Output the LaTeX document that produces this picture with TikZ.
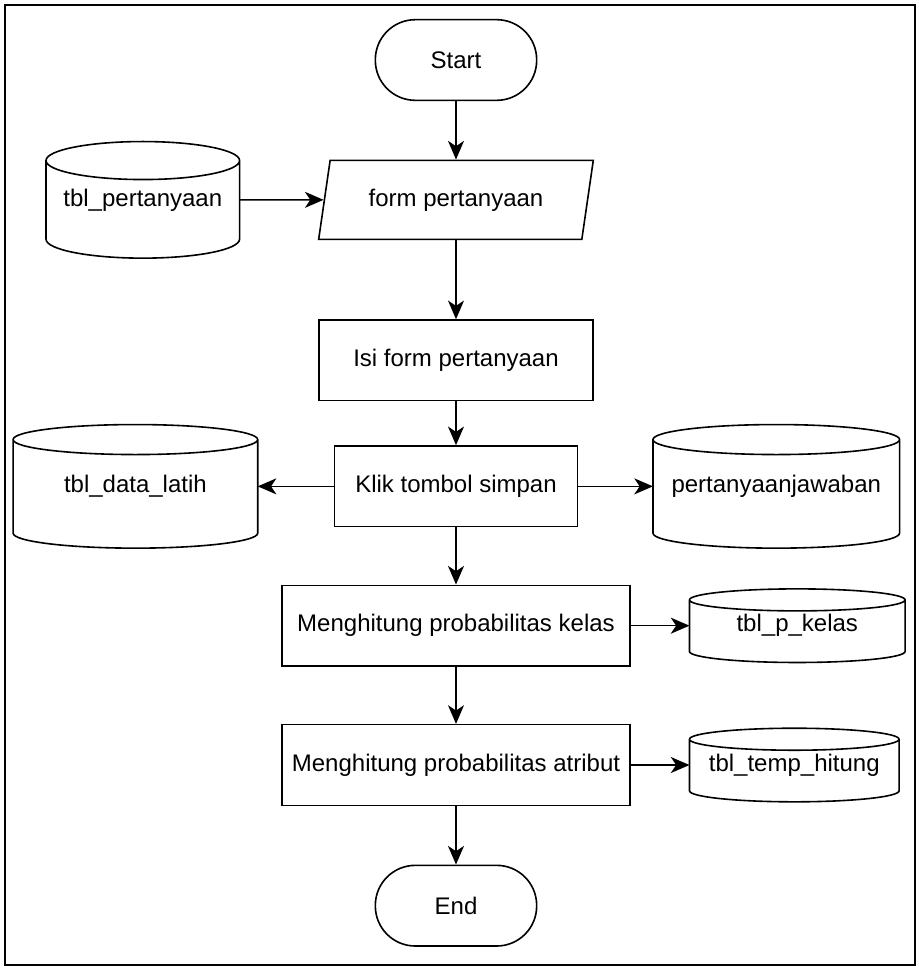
\documentclass[tikz,border=0pt]{standalone}
\usepackage{fontspec}
\setmainfont{Liberation Sans}
\usetikzlibrary{arrows.meta,positioning,shapes.geometric,calc}
\tikzset{
    %Define standard arrow tip
    >={Stealth[length=14pt,width=12pt,inset=4pt]},
    every node/.append style={font=\fontsize{18}{21}\selectfont},
    proses/.style={
      rectangle,
      draw=black,
      minimum width=205.5pt,
      minimum height=60.5pt,
      text centered},
    masukan/.style={
      trapezium,
      trapezium left angle=75,
      trapezium right angle=105,
      trapezium stretches=true,
      draw=black,
      minimum width=206pt,
      minimum height=59.25pt,
      text centered},
    terminal/.style={
      rectangle,
      rounded corners=30pt,
      draw=black,
      minimum width=121pt,
      minimum height=60.5pt,
      text centered},
    basisdata/.style={
      rectangle,
      inner sep=0pt,
      text centered},
}

\begin{document}
\begin{tikzpicture}[x=0.75pt,y=0.75pt,line width=1.2pt,node distance=42.8pt]
    \useasboundingbox (0,0) rectangle (919,-968);
    % outer frame
    \draw [line width=1.6pt] (5,-5) rectangle (915,-965);
    \node (start) [terminal] at (456,-60)
          {Start};
    \node (form) [masukan] [below=43.8pt of start]
          {form pertanyaan}
          edge [<-] (start);
    \node (tblq) [basisdata, minimum width=144pt, minimum height=86.25pt]
          [left=63pt of form]
          {tbl\_pertanyaan}
          edge [->] (form);
    \node (isi) [proses] [below=59.3pt of form]
          {Isi form pertanyaan}
          edge [<-] (form);
    \node (simpan) [proses, minimum width=182.25pt] [below=32.8pt of isi]
          {Klik tombol simpan}
          edge [<-] (isi);
    \node (latih) [basisdata, minimum width=182.25pt, minimum height=91.5pt]
          [left=57pt of simpan]
          {tbl\_data\_latih}
          edge [<-] (simpan);
    \node (tanya) [basisdata, minimum width=183.75pt, minimum height=91.5pt]
          [right=56pt of simpan]
          {pertanyaanjawaban}
          edge [<-] (simpan);
    \node (kelas) [proses, minimum width=261pt] [below=of simpan]
          {Menghitung probabilitas kelas}
          edge [<-] (simpan);
    \node (pkelas) [basisdata, minimum width=160.5pt, minimum height=54pt]
          [right=44pt of kelas]
          {tbl\_p\_kelas}
          edge [<-] (kelas);
    \node (atribut) [proses, minimum width=261pt] [below=of kelas]
          {Menghitung probabilitas atribut}
          edge [<-] (kelas);
    \node (hitung) [basisdata, minimum width=156pt, minimum height=54pt]
          [right=44pt of atribut]
          {tbl\_temp\_hitung}
          edge [<-] (atribut);
    \node (stop) [terminal] [below=43.8pt of atribut]
          {End}
          edge [<-] (atribut);
    % cylinder outlines round the table nodes
    \foreach \db/\ry in {tblq/14.25pt, latih/11.25pt, tanya/11.25pt, pkelas/8.25pt, hitung/8.25pt}
      \draw let \p1=(\db.north west), \p2=(\db.south east), \n1={(\x2-\x1)/2} in
        (\x1,\y1-\ry) -- (\x1,\y2+\ry)
        arc[start angle=180, end angle=360, x radius=\n1, y radius=\ry]
        -- (\x2,\y1-\ry)
        arc[start angle=0, end angle=180, x radius=\n1, y radius=\ry]
        arc[start angle=180, end angle=360, x radius=\n1, y radius=\ry];
\end{tikzpicture}
\end{document}
